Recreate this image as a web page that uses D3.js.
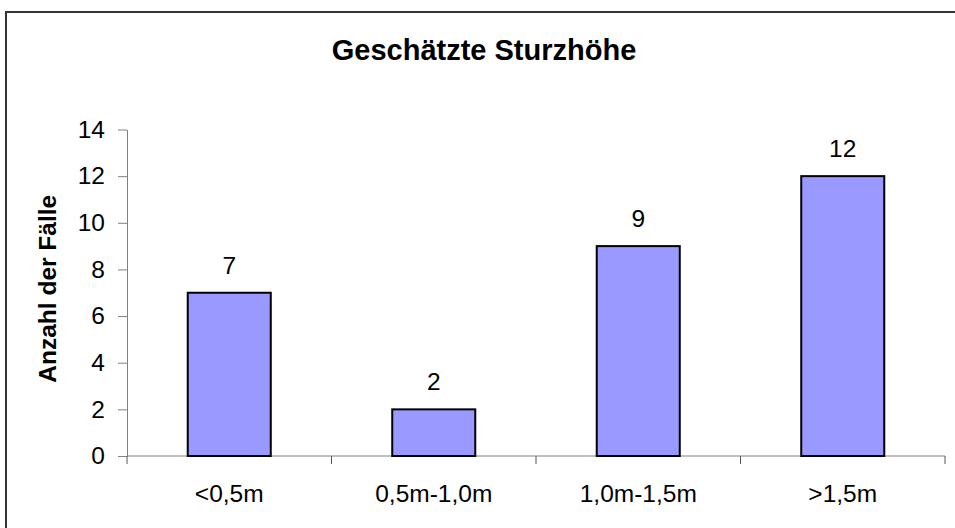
<!DOCTYPE html>
<html>
<head>
<meta charset="utf-8">
<script src="https://cdn.jsdelivr.net/npm/d3@7"></script>
<style>
  body { margin: 0; background: #fff; }
  svg { display: block; font-family: "Liberation Sans", Arial, sans-serif; }
</style>
</head>
<body>
<svg id="chart" width="955" height="528"></svg>
<script>

// Data
var categories = ["<0,5m", "0,5m-1,0m", "1,0m-1,5m", ">1,5m"];
var counts = [7, 2, 9, 12];
var yTicks = [0, 2, 4, 6, 8, 10, 12, 14];
var titleText = "Geschätzte Sturzhöhe";
var yLabelText = "Anzahl der Fälle";

var svg = d3.select("#chart");

// Plot area
var plot = {left: 127, right: 945, top: 129.5, bottom: 456};
var fontSize = 24.5;

// Outer frame (runs off the right and bottom edge like the original)
svg.append("rect")
    .attr("x", 6)
    .attr("y", 12)
    .attr("width", 1000)
    .attr("height", 600)
    .attr("fill", "none")
    .attr("stroke", "#333")
    .attr("stroke-width", 2);

// Scales
var xCat = d3.scaleBand().domain(categories).range([plot.left, plot.right]).padding(0);
var xBar = d3.scaleBand().domain(categories).range([plot.left, plot.right])
    .paddingInner(0.594).paddingOuter(0.297);
var y = d3.scaleLinear().domain([0, 14]).range([plot.bottom, plot.top]);

// Title
svg.append("text")
    .attr("x", 484)
    .attr("y", 60)
    .attr("text-anchor", "middle")
    .attr("font-size", 29)
    .attr("font-weight", "bold")
    .text(titleText);

// Y axis
var yAxis = svg.append("g")
    .attr("transform", "translate(" + plot.left + ",0)")
    .call(d3.axisLeft(y).tickValues(yTicks).tickSize(9).tickPadding(13).tickSizeOuter(0));
yAxis.select(".domain").attr("stroke", "#808080");
yAxis.selectAll(".tick line").attr("stroke", "#808080");
yAxis.selectAll(".tick text")
    .attr("font-size", fontSize)
    .attr("font-family", "Liberation Sans, Arial, sans-serif")
    .attr("fill", "#000");

// Y label
svg.append("text")
    .attr("transform", "translate(56," + ((plot.top + plot.bottom) / 2 - 4) + ") rotate(-90)")
    .attr("text-anchor", "middle")
    .attr("font-size", fontSize)
    .attr("font-weight", "bold")
    .text(yLabelText);

// X axis line and boundary ticks
svg.append("line")
    .attr("x1", plot.left).attr("x2", plot.right)
    .attr("y1", plot.bottom).attr("y2", plot.bottom)
    .attr("stroke", "#808080");

var bounds = categories.map(function(d) { return xCat(d); }).concat([plot.right]);
svg.selectAll(".xtick").data(bounds).enter().append("line")
    .attr("class", "xtick")
    .attr("x1", function(d) { return d; })
    .attr("x2", function(d) { return d; })
    .attr("y1", plot.bottom)
    .attr("y2", plot.bottom + 8)
    .attr("stroke", "#555");

// X labels
svg.selectAll(".xlabel").data(categories).enter().append("text")
    .attr("class", "xlabel")
    .attr("x", function(d) { return xCat(d) + xCat.bandwidth() / 2; })
    .attr("y", 502)
    .attr("text-anchor", "middle")
    .attr("font-size", fontSize)
    .text(function(d) { return d; });

// Bars
svg.selectAll(".bar").data(counts).enter().append("rect")
    .attr("class", "bar")
    .attr("x", function(d, i) { return xBar(categories[i]); })
    .attr("y", function(d) { return y(d); })
    .attr("width", xBar.bandwidth())
    .attr("height", function(d) { return y(0) - y(d); })
    .attr("fill", "#9999FF")
    .attr("stroke", "#000")
    .attr("stroke-width", 2);

// Value labels
svg.selectAll(".vlabel").data(counts).enter().append("text")
    .attr("class", "vlabel")
    .attr("x", function(d, i) { return xBar(categories[i]) + xBar.bandwidth() / 2; })
    .attr("y", function(d) { return y(d) - 19; })
    .attr("text-anchor", "middle")
    .attr("font-size", fontSize)
    .text(function(d) { return d; });

</script>
</body>
</html>
